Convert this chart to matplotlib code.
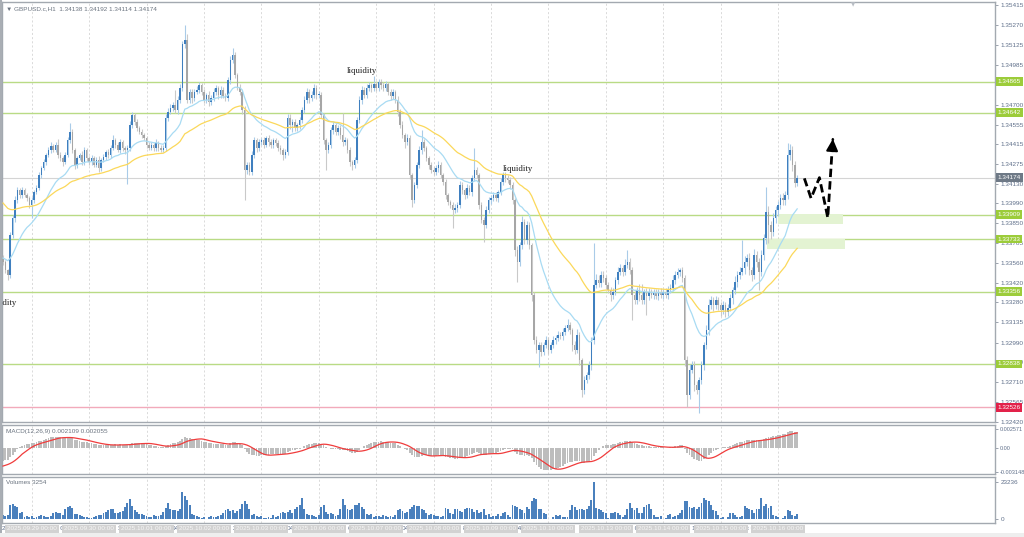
import numpy as np
import pandas as pd
import matplotlib
matplotlib.use('Agg')
import matplotlib.pyplot as plt
import matplotlib.transforms as mtransforms
from matplotlib.patches import Rectangle

# ---- data (GBPUSD.c H1), prices as points above 1.30000 ----
first_open = 3600
close_pts = [
    3570, 3512, 3476, 3760, 3885, 4015, 4086, 4050, 4086, 4050, 4030, 3979,
    4015, 4072, 4101, 4194, 4244, 4288, 4338, 4374, 4402, 4374, 4410, 4338, 4316, 4288, 4338, 4445, 4503, 4374, 4266, 4316, 4338, 4288, 4374, 4316,
    4288, 4316, 4266, 4302, 4244, 4302, 4323, 4359, 4338, 4388, 4445, 4410, 4374, 4431, 4388, 4374, 4388, 4553, 4625, 4575, 4532, 4503, 4481, 4460,
    4410, 4388, 4410, 4388, 4424, 4388, 4374, 4388, 4604, 4647, 4675, 4697, 4661, 4733, 4819, 5135, 5164, 4733, 4790, 4748, 4791, 4805, 4840, 4791,
    4733, 4769, 4718, 4748, 4791, 4819, 4769, 4805, 4762, 4748, 4876, 5020, 5056, 4912, 4819, 4791, 4661, 4230, 4266, 4216, 4338, 4445, 4388, 4431,
    4445, 4410, 4460, 4431, 4410, 4445, 4424, 4388, 4374, 4338, 4359, 4604, 4553, 4575, 4532, 4553, 4589, 4661, 4733, 4791, 4748, 4769, 4819, 4769,
    4769, 4625, 4445, 4374, 4410, 4517, 4553, 4503, 4532, 4481, 4431, 4445, 4374, 4288, 4266, 4302, 4589, 4733, 4805, 4769, 4819, 4840, 4819, 4848,
    4819, 4862, 4840, 4819, 4848, 4791, 4762, 4791, 4733, 4647, 4553, 4481, 4431, 4460, 4194, 4015, 4122, 4266, 4374, 4431, 4388, 4316, 4266, 4230,
    4216, 4244, 4266, 4194, 4144, 4050, 4001, 3979, 3943, 3958, 3979, 4122, 4086, 4050, 4101, 4072, 4173, 4230, 4194, 3979, 3871, 3835, 3943, 4015,
    4030, 4050, 4030, 4072, 4144, 4194, 4173, 4158, 4122, 4015, 3655, 3570, 3691, 3857, 3727, 3835, 3691, 3332, 3009, 2937, 2973, 2923, 2973, 3009,
    2937, 2973, 3009, 3024, 3045, 3038, 3067, 3095, 3117, 3081, 2973, 2937, 3045, 2865, 2650, 2722, 2758, 2830, 3009, 3404, 3440, 3418, 3476, 3454,
    3404, 3368, 3332, 3354, 3440, 3498, 3526, 3498, 3548, 3570, 3512, 3332, 3296, 3368, 3332, 3296, 3354, 3325, 3354, 3332, 3347, 3325, 3354, 3332,
    3354, 3332, 3368, 3383, 3440, 3476, 3498, 3512, 3454, 2865, 2614, 2794, 2830, 2686, 2650, 2722, 2830, 2973, 3081, 3260, 3296, 3260, 3296, 3260,
    3224, 3260, 3210, 3239, 3311, 3368, 3426, 3476, 3498, 3526, 3570, 3598, 3512, 3476, 3619, 3570, 3498, 3619, 3742, 3928, 3835, 3785, 3885, 3943,
    3979, 4030, 4015, 4050, 4338, 4374, 4266, 4138, 4174]
wick_up = [
    20, 15, 10, 25, 20, 30, 25, 15, 20, 18, 12, 15,
    20, 15, 18, 25, 12, 20, 15, 22, 30, 15, 20, 45, 18, 15, 20, 25, 64, 20, 15, 18, 12, 30, 20, 15,
    15, 20, 12, 18, 25, 15, 20, 18, 22, 20, 35, 15, 18, 25, 12, 15, 20, 30, 25, 15, 18, 12, 20, 15,
    15, 20, 18, 12, 25, 15, 20, 18, 30, 25, 30, 20, 108, 25, 30, 20, 107, 40, 20, 25, 18, 30, 20, 15,
    20, 15, 25, 18, 30, 20, 15, 25, 18, 20, 25, 30, 50, 20, 18, 25, 15, 30, 20, 18, 25, 20, 15, 22,
    18, 25, 15, 20, 22, 18, 15, 20, 18, 12, 20, 30, 25, 18, 20, 15, 25, 20, 30, 25, 18, 30, 25, 20,
    25, 20, 15, 18, 22, 20, 25, 15, 18, 20, 158, 20, 15, 18, 12, 20, 25, 30, 25, 20, 30, 25, 18, 57,
    20, 25, 18, 22, 20, 15, 18, 20, 15, 25, 20, 30, 18, 25, 20, 15, 25, 20, 30, 86, 20, 15, 18, 20,
    25, 20, 30, 18, 15, 20, 18, 15, 20, 25, 18, 30, 20, 15, 25, 18, 20, 158, 20, 15, 18, 20, 25, 20,
    18, 25, 20, 15, 30, 25, 20, 18, 25, 20, 15, 30, 25, 40, 20, 30, 25, 15, 20, 30, 25, 20, 25, 30,
    25, 20, 30, 18, 25, 20, 30, 25, 40, 20, 15, 30, 40, 20, 18, 25, 20, 30, 20, 302, 40, 35, 30, 25,
    20, 25, 18, 30, 25, 35, 30, 20, 40, 85, 25, 20, 30, 25, 40, 80, 20, 30, 25, 20, 30, 25, 20, 25,
    20, 25, 30, 25, 35, 30, 25, 14, 20, 25, 30, 40, 30, 25, 30, 20, 30, 25, 35, 40, 30, 25, 30, 20,
    25, 30, 20, 25, 30, 25, 40, 30, 35, 200, 40, 30, 35, 20, 40, 30, 25, 35, 30, 180, 40, 30, 35, 30,
    30, 25, 35, 30, 86, 40, 30, 25, 18]
wick_dn = [
    20, 25, 36, 20, 15, 25, 20, 18, 22, 15, 20, 25,
    94, 20, 15, 18, 25, 12, 20, 15, 22, 18, 15, 25, 20, 30, 18, 15, 20, 25, 30, 20, 15, 25, 20, 18,
    20, 25, 18, 15, 30, 20, 15, 18, 25, 20, 15, 22, 18, 20, 25, 30, 245, 20, 18, 25, 20, 15, 22, 18,
    20, 15, 18, 25, 20, 22, 18, 15, 20, 25, 18, 20, 25, 30, 20, 25, 30, 20, 25, 35, 20, 18, 25, 20,
    25, 20, 30, 18, 20, 25, 30, 20, 18, 25, 20, 30, 25, 20, 18, 25, 30, 215, 30, 25, 20, 25, 30, 20,
    20, 25, 18, 30, 25, 20, 22, 25, 30, 35, 25, 20, 30, 50, 25, 20, 30, 25, 20, 25, 40, 20, 25, 30,
    20, 25, 30, 144, 25, 20, 30, 25, 20, 25, 30, 20, 25, 30, 35, 20, 25, 20, 30, 25, 20, 25, 30, 20,
    25, 20, 30, 25, 20, 25, 30, 20, 25, 30, 25, 20, 40, 25, 30, 50, 25, 20, 25, 30, 20, 25, 30, 20,
    25, 20, 30, 25, 20, 30, 25, 20, 129, 25, 30, 20, 25, 30, 20, 25, 30, 20, 25, 30, 25, 122, 20, 25,
    30, 20, 25, 30, 20, 25, 30, 20, 25, 30, 40, 144, 30, 25, 30, 25, 30, 40, 30, 25, 122, 30, 25, 20,
    30, 25, 20, 30, 25, 20, 30, 25, 20, 30, 40, 30, 25, 35, 50, 30, 25, 30, 35, 30, 25, 30, 25, 30,
    30, 25, 40, 30, 25, 30, 25, 30, 25, 20, 30, 179, 30, 25, 40, 30, 25, 136, 30, 25, 30, 25, 30, 25,
    30, 25, 30, 25, 20, 30, 25, 30, 25, 40, 86, 30, 25, 40, 30, 164, 30, 40, 30, 35, 30, 40, 30, 35,
    40, 30, 35, 30, 25, 40, 30, 35, 30, 25, 40, 30, 35, 40, 30, 35, 130, 30, 35, 40, 129, 50, 30, 35,
    40, 30, 35, 40, 30, 35, 40, 30, 24]
volume_k = [
    2.5, 2.0, 2.8, 8.8, 9.5, 8.0, 7.7, 3.5, 4.2, 1.5, 2.0, 1.2,
    1.8, 0.5, 1.0, 2.2, 2.5, 1.8, 1.0, 1.5, 2.2, 3.8, 4.3, 3.6, 3.5, 2.8, 6.5, 7.5, 8.0, 6.8, 3.2, 3.0, 2.5, 2.2, 1.2, 1.0,
    0.6, 0.4, 1.5, 1.8, 2.5, 2.8, 3.5, 4.5, 5.8, 6.5, 6.0, 3.8, 4.0, 4.5, 5.2, 7.5, 10.0, 12.5, 8.0, 5.5, 4.5, 3.0, 3.2, 2.5,
    2.0, 1.5, 1.2, 2.8, 1.8, 2.2, 2.5, 4.2, 7.0, 10.0, 6.5, 5.5, 5.5, 5.2, 6.5, 17.0, 14.5, 12.0, 8.5, 3.0, 2.8, 2.2, 1.5, 0.5,
    1.0, 0.3, 1.5, 2.0, 1.2, 1.5, 1.8, 2.5, 3.8, 5.5, 6.0, 5.0, 5.5, 4.0, 4.8, 6.0, 9.5, 11.5, 9.5, 6.0, 2.5, 3.0, 1.8, 1.5,
    2.2, 0.4, 0.8, 1.5, 0.6, 2.5, 1.5, 2.0, 3.5, 4.5, 3.8, 4.5, 5.5, 4.0, 6.0, 7.5, 9.0, 13.5, 6.5, 3.0, 2.5, 2.5, 1.8, 1.5,
    2.8, 7.5, 8.5, 4.5, 3.0, 3.5, 3.0, 2.0, 2.5, 6.5, 12.5, 8.5, 6.0, 5.8, 6.5, 9.0, 8.5, 10.0, 7.5, 6.0, 3.0, 2.5, 3.2, 1.5,
    2.2, 2.0, 1.2, 2.5, 1.8, 1.5, 2.2, 1.0, 2.5, 5.5, 6.5, 5.0, 4.0, 4.2, 6.0, 7.5, 8.5, 8.0, 8.0, 6.5, 5.5, 3.5, 2.5, 3.0,
    2.5, 1.8, 2.0, 1.5, 2.2, 7.2, 6.0, 3.5, 3.0, 6.0, 6.5, 5.0, 4.5, 6.0, 7.0, 7.0, 6.5, 4.5, 5.5, 3.5, 4.5, 6.0, 2.5, 3.0,
    1.5, 2.0, 1.8, 3.0, 2.0, 3.5, 4.5, 2.5, 1.5, 8.5, 8.0, 7.5, 6.5, 5.5, 3.5, 7.5, 6.5, 11.0, 13.5, 12.5, 6.5, 6.0, 3.5, 3.0,
    0.3, 0.2, 1.5, 2.5, 2.2, 2.5, 1.2, 1.0, 1.5, 5.5, 9.0, 7.5, 5.5, 6.0, 6.0, 5.5, 6.5, 8.0, 12.0, 23.236, 7.2, 6.0, 5.5, 4.5,
    3.5, 0.4, 3.5, 4.0, 4.5, 4.0, 2.5, 1.5, 2.5, 6.5, 10.0, 7.0, 5.5, 7.0, 4.0, 4.0, 7.5, 8.5, 9.5, 6.0, 2.5, 1.5, 1.5, 1.8,
    0.3, 0.8, 2.5, 3.0, 1.5, 2.0, 2.8, 4.0, 5.5, 11.5, 11.5, 7.5, 7.2, 7.5, 6.5, 7.5, 10.0, 13.5, 12.0, 11.0, 8.5, 5.5, 5.2, 2.5,
    0.4, 1.5, 0.3, 1.2, 4.0, 4.0, 2.5, 1.5, 1.5, 2.0, 8.0, 7.0, 6.5, 5.5, 4.0, 6.5, 6.0, 13.5, 8.0, 9.5, 7.2, 8.0, 2.5, 1.8,
    1.5, 0.3, 0.5, 2.0, 5.5, 5.0, 2.5, 2.0, 3.254]

# indicator states at the left edge
ema_fast_start = 1.33600
ema_slow_start = 1.34010
macd_start = -0.0018
signal_start = -0.0025

green_levels = [1.34865, 1.34642, 1.33909, 1.33733, 1.33356, 1.32838]
red_level = 1.32526
last_price = 1.34174
price_ticks = [1.35415, 1.35270, 1.35125, 1.34985, 1.34845, 1.34700, 1.34555, 1.34415,
               1.34275, 1.34130, 1.33990, 1.33850, 1.33705, 1.33560, 1.33420, 1.33280,
               1.33135, 1.32990, 1.32850, 1.32710, 1.32565, 1.32420]
title = "GBPUSD.c,H1  1.34138 1.34192 1.34114 1.34174"
macd_title = "MACD(12,26,9) 0.002109 0.002055"
macd_ticks = [0.002571, 0.0, -0.003148]
macd_tick_labels = ['0.002571', '0.00', '-0.003148']
vol_title = "Volumes 3254"

day_start = [12 + 24 * k for k in range(14)]
day_labels = ['2025.09.29 00:00', '2025.09.30 00:00', '2025.10.01 00:00', '2025.10.02 00:00',
              '2025.10.03 00:00', '2025.10.06 00:00', '2025.10.07 00:00', '2025.10.08 00:00',
              '2025.10.09 00:00', '2025.10.10 00:00', '2025.10.13 00:00', '2025.10.14 00:00',
              '2025.10.15 00:00', '2025.10.16 00:00']
axis_bits = [(-0.4, '26'), (21.7, 'p 04'), (48.1, '30'), (70.7, '04:0'), (96.2, '2'),
             (118.7, '04:0'), (144.2, '6'), (166.8, '04:0'), (192.3, '8'), (214.0, '04:0'),
             (240.8, '10'), (262.5, 't 04'), (288.0, '14'), (311.0, 't 04')]

# drawings on the chart (bar index, price)
zone_bars = [(324.0, 351.2), (319.4, 352.0)]
zone_prices = [(1.33842, 1.33914), (1.33663, 1.33734)]
path_bars = [335.0, 337.8, 341.3, 344.8, 346.9]
path_prices = [1.34170, 1.34027, 1.34175, 1.33887, 1.34453]
notes = [(150.0, 1.34941, 'center'), (215.3, 1.34237, 'center'), (5.9, 1.33275, 'right')]

# ---- derived series ----
c = 1.3 + np.array(close_pts) / 1e5
o = np.r_[1.3 + first_open / 1e5, c[:-1]]
hi = np.maximum(o, c) + np.array(wick_up) / 1e5
lo = np.minimum(o, c) - np.array(wick_dn) / 1e5
vol = np.array(volume_k)
n = len(c)
x = np.arange(n)


def ema(series, period, start):
    a = 2.0 / (period + 1)
    out = np.empty(len(series))
    prev = start
    for i, v in enumerate(series):
        prev = prev + a * (v - prev)
        out[i] = prev
    return out


ma_fast = ema(c, 20, ema_fast_start)
ma_slow = ema(c, 50, ema_slow_start)
macd = ema(c, 12, c[0]) - ema(c, 26, c[0] - macd_start)
signal = pd.Series([signal_start] * 8 + list(macd)).rolling(9).mean().values[8:]

# ---- figure ----
W, H = 1024, 537
fig = plt.figure(figsize=(W / 100, H / 100), dpi=100, facecolor='white')


def rect(x0, y0, x1, y1):
    return [x0 / W, 1 - y1 / H, (x1 - x0) / W, (y1 - y0) / H]


# window chrome: left border and bottom status strip
fig.patches.append(Rectangle((0, 0), 2 / W, 1, transform=fig.transFigure, fc='#a9aeb4', ec='none'))
fig.patches.append(Rectangle((0, 0), 1, 4 / H, transform=fig.transFigure, fc='#eeeeee', ec='none'))

ax = fig.add_axes(rect(2, 2, 995, 422))
axm = fig.add_axes(rect(2, 425, 995, 474), sharex=ax)
axv = fig.add_axes(rect(2, 477, 995, 523), sharex=ax)

frame = '#a3a9b0'
for a in (ax, axm, axv):
    a.set_facecolor('white')
    for s in a.spines.values():
        s.set_color(frame)
        s.set_linewidth(1.0)
    a.tick_params(axis='x', bottom=False, labelbottom=False)
    a.yaxis.tick_right()
    a.tick_params(axis='y', direction='out', length=2.5, width=0.6, color='#8a93a0',
                  pad=1.5, labelsize=4.6, labelcolor='#5f6f8a')
    for d in day_start:
        a.axvline(d, color='#d5d5d5', lw=0.6, ls=(0, (2.5, 2.5)), zorder=0)
ax.set_xlim(-0.42, 414.7)

# main price panel
ax.set_ylim(1.324201, 1.354365)
ax.set_yticks(price_ticks)
ax.set_yticklabels(['%.5f' % t for t in price_ticks], fontfamily='Liberation Sans')

for lv in green_levels:
    ax.axhline(lv, color='#b9db85', lw=1.0, zorder=1)
ax.axhline(red_level, color='#f2aabb', lw=1.0, zorder=1)
ax.axhline(last_price, color='#d4d4d4', lw=0.8, zorder=1)

for (b0, b1), (p0, p1) in zip(zone_bars, zone_prices):
    ax.add_patch(Rectangle((b0, p0), b1 - b0, p1 - p0, facecolor='#e3f3d2',
                           edgecolor='none', zorder=1))

up = c >= o
wick_col = np.where(up, '#a9cbe8', '#c9c9c9')
body_col = np.where(up, '#3f7fbf', '#a6a6a6')
ax.vlines(x, lo, hi, colors=wick_col, lw=0.8, zorder=3)
body_h = np.where(np.abs(c - o) < 0.00004, 0.00004, c - o)
ax.bar(x, body_h, bottom=o, width=0.62, color=body_col, linewidth=0, zorder=4)

ax.plot(x, ma_fast, color='#a8dbf3', lw=0.9, zorder=5)
ax.plot(x, ma_slow, color='#fbd85a', lw=0.9, zorder=5)

ax.plot(path_bars, path_prices, color='black', lw=2.0, ls=(0, (3.0, 1.5)), zorder=6)
ax.annotate('', xy=(path_bars[-1] + 0.1, path_prices[-1] + 0.0002),
            xytext=(path_bars[-1] - 0.05, path_prices[-1] - 0.0002),
            arrowprops=dict(arrowstyle='-|>,head_length=0.7,head_width=0.35', color='black', lw=1.5),
            zorder=7)

for bx, py, ha in notes:
    ax.text(bx, py, 'liquidity', ha=ha, va='center', fontsize=6.3, family='Liberation Serif',
            color='#1e1e1e', zorder=7, clip_on=True)

ax.text(0.004, 0.984, '\u25bc ' + title, transform=ax.transAxes, ha='left', va='center',
        fontsize=4.6, family=['Liberation Sans', 'DejaVu Sans'], color='#6b7480')
ax.text(355.2, 1.0, '\u25bc', transform=mtransforms.blended_transform_factory(ax.transData, ax.transAxes),
        ha='center', va='top', fontsize=4, family='DejaVu Sans', color='#b8bdc4', clip_on=False)

# right-side price boxes
ytr = mtransforms.blended_transform_factory(ax.transAxes, ax.transData)
box_items = [(lv, '#9ccc3a') for lv in green_levels] + [(red_level, '#e2224a'), (last_price, '#6e7986')]
for lv, col in box_items:
    ax.text(1.0025, lv, '%.5f' % lv, transform=ytr, ha='left', va='center', fontsize=4.6,
            family='Liberation Sans', color='white', clip_on=False, zorder=10,
            bbox=dict(boxstyle='square,pad=0.28', fc=col, ec='none'))

# MACD panel
axm.set_ylim(-0.003466, 0.003066)
axm.bar(x, macd, width=0.78, color='#bdbdbd', linewidth=0, zorder=2)
axm.plot(x, signal, color='#f03c3c', lw=0.9, zorder=3)
axm.set_yticks(macd_ticks)
axm.set_yticklabels(macd_tick_labels, fontfamily='Liberation Sans')
axm.tick_params(axis='y', labelsize=4.0, pad=1.0)
axm.text(0.004, 0.86, macd_title, transform=axm.transAxes,
         ha='left', va='center', fontsize=4.6, family='Liberation Sans', color='#6b7480')

# volume panel
axv.set_ylim(-2.5, 26.38)
axv.bar(x, vol, width=0.8, color='#4a80bd', linewidth=0, zorder=2)
axv.set_yticks([vol.max(), 0])
axv.set_yticklabels(['%d' % round(vol.max() * 1000), '0'], fontfamily='Liberation Sans')
axv.text(0.004, 0.87, vol_title, transform=axv.transAxes,
         ha='left', va='center', fontsize=4.6, family='Liberation Sans', color='#6b7480')

# time axis
xtr = mtransforms.blended_transform_factory(axv.transData, axv.transAxes)
for bx, t in axis_bits:
    axv.text(bx, -0.13, t, transform=xtr, ha='left', va='center', fontsize=4.6,
             family='Liberation Sans', color='#5f6f8a', clip_on=False, zorder=5)
for d, t in zip(day_start, day_labels):
    axv.text(d, -0.13, t, transform=xtr, ha='center', va='center', fontsize=4.6,
             family='Liberation Sans', color='#f7f7f7', clip_on=False, zorder=6,
             bbox=dict(boxstyle='square,pad=0.3', fc='#d2d2d2', ec='none'))

fig.savefig('out.png', dpi=100, facecolor='white')
